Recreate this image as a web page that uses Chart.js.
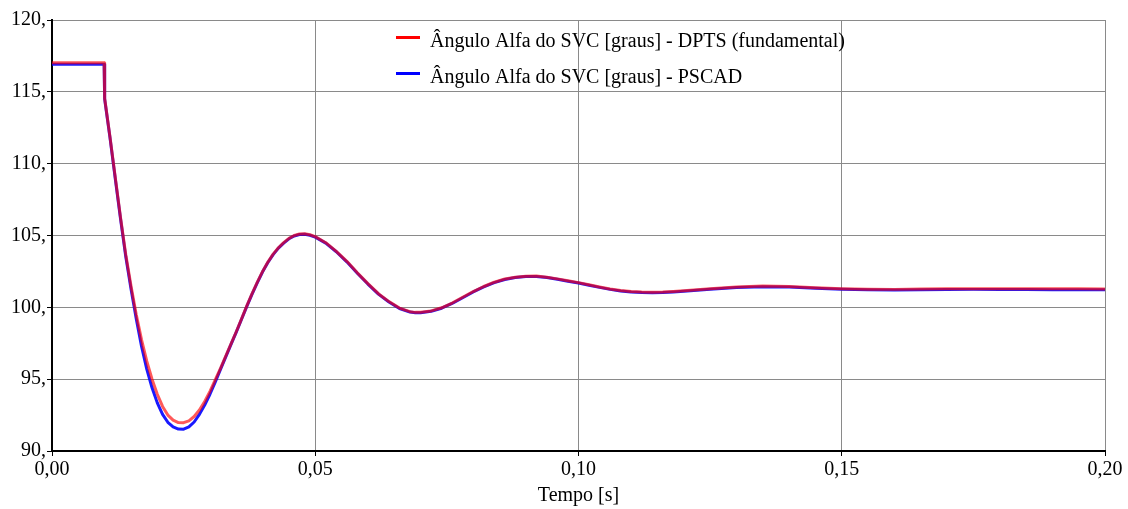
<!DOCTYPE html>
<html>
<head>
<meta charset="utf-8">
<script src="https://cdn.jsdelivr.net/npm/chart.js@4.4.0/dist/chart.umd.min.js"></script>
<style>
html,body{margin:0;padding:0;background:#fff;}
#wrap{width:1128px;height:509px;position:relative;}
</style>
</head>
<body>
<div id="wrap"><canvas id="c" width="1128" height="509"></canvas></div>
<script>
const seriesLabels = ['Ângulo Alfa do SVC [graus] - DPTS (fundamental)', 'Ângulo Alfa do SVC [graus] - PSCAD'];
const xTitle = 'Tempo [s]';
const xTickValues = [0, 0.05, 0.10, 0.15, 0.20];
const xTickLabels = ['0,00', '0,05', '0,10', '0,15', '0,20'];
const yTickValues = [90, 95, 100, 105, 110, 115, 120];
const yTickLabels = ['90,', '95,', '100,', '105,', '110,', '115,', '120,'];

const times = [0, 0.0099, 0.0100, 0.011, 0.012, 0.013, 0.014, 0.015, 0.016, 0.017, 0.018, 0.019,
  0.020, 0.021, 0.022, 0.023, 0.024, 0.025, 0.026, 0.027, 0.028, 0.029, 0.030, 0.031, 0.032, 0.033,
  0.034, 0.035, 0.036, 0.037, 0.038, 0.039, 0.040, 0.041, 0.042, 0.043, 0.044, 0.045, 0.046, 0.047,
  0.048, 0.049, 0.050, 0.052, 0.054, 0.056, 0.058, 0.060, 0.062, 0.064, 0.066, 0.068, 0.069, 0.070,
  0.072, 0.074, 0.076, 0.078, 0.080, 0.082, 0.084, 0.086, 0.088, 0.090, 0.092, 0.094, 0.096, 0.098,
  0.100, 0.102, 0.104, 0.106, 0.108, 0.110, 0.112, 0.114, 0.116, 0.118, 0.120, 0.125, 0.130, 0.135,
  0.140, 0.145, 0.150, 0.155, 0.160, 0.165, 0.170, 0.175, 0.180, 0.185, 0.190, 0.195, 0.200];

const dptsValues = [117.03, 117.03, 114.55, 111.9, 109.1, 106.3, 103.7, 101.5, 99.5, 97.75, 96.25, 95.0,
  93.95, 93.1, 92.5, 92.15, 91.98, 91.97, 92.1, 92.4, 92.85, 93.45, 94.15, 94.95, 95.75, 96.6,
  97.45, 98.3, 99.2, 100.1, 100.95, 101.75, 102.5, 103.15, 103.7, 104.15, 104.5, 104.8, 105.0, 105.1,
  105.12, 105.05, 104.92, 104.5, 103.9, 103.2, 102.4, 101.65, 100.95, 100.4, 99.95, 99.7, 99.65, 99.66,
  99.75, 99.97, 100.3, 100.7, 101.1, 101.45, 101.75, 101.97, 102.1, 102.17, 102.18, 102.1, 101.98, 101.85,
  101.72, 101.57, 101.42, 101.28, 101.17, 101.1, 101.06, 101.05, 101.06, 101.1, 101.15, 101.3, 101.42, 101.48,
  101.45, 101.37, 101.3, 101.26, 101.25, 101.27, 101.29, 101.3, 101.3, 101.29, 101.29, 101.29, 101.28];

const pscadValues = [116.92, 116.92, 114.5, 111.85, 109.0, 106.2, 103.55, 101.3, 99.2, 97.3, 95.7, 94.4,
  93.35, 92.55, 92.0, 91.68, 91.53, 91.52, 91.68, 92.02, 92.55, 93.2, 93.95, 94.8, 95.68, 96.55,
  97.42, 98.27, 99.17, 100.07, 100.92, 101.72, 102.47, 103.12, 103.67, 104.12, 104.47, 104.77, 104.97, 105.07,
  105.09, 105.02, 104.89, 104.47, 103.87, 103.17, 102.37, 101.62, 100.92, 100.37, 99.92, 99.67, 99.62, 99.63,
  99.72, 99.94, 100.27, 100.67, 101.07, 101.42, 101.72, 101.94, 102.07, 102.14, 102.15, 102.07, 101.95, 101.82,
  101.69, 101.54, 101.39, 101.25, 101.14, 101.07, 101.03, 101.02, 101.03, 101.07, 101.12, 101.26, 101.38, 101.43,
  101.41, 101.33, 101.26, 101.22, 101.21, 101.22, 101.24, 101.25, 101.25, 101.24, 101.23, 101.23, 101.22];

const FONT = "'Liberation Serif', 'Times New Roman', serif";
const FSIZE = 20;

const legendPlugin = {
  id: 'insideLegend',
  afterDraw(chart) {
    const ctx = chart.ctx;
    const rows = [
      {lineY: 37.5, textY: 47},
      {lineY: 73.5, textY: 83}
    ];
    const cols = ['#ff0000', '#0000ff'];
    ctx.save();
    chart.data.datasets.forEach((ds, i) => {
      ctx.strokeStyle = cols[i];
      ctx.lineWidth = 3;
      ctx.beginPath();
      ctx.moveTo(396, rows[i].lineY);
      ctx.lineTo(420, rows[i].lineY);
      ctx.stroke();
      ctx.fillStyle = '#000';
      ctx.font = FSIZE + 'px ' + FONT;
      ctx.textBaseline = 'alphabetic';
      ctx.textAlign = 'left';
      ctx.fillText(ds.label, 430, rows[i].textY);
    });
    ctx.restore();
  }
};

const mk = (vals) => times.map((t, i) => ({x: t, y: vals[i]}));

new Chart(document.getElementById('c'), {
  type: 'line',
  data: {
    datasets: [
      {label: seriesLabels[0], data: mk(dptsValues), borderColor: 'rgba(255,0,0,0.65)', borderWidth: 3,
       pointRadius: 0, tension: 0, fill: false, borderJoinStyle: 'round'},
      {label: seriesLabels[1], data: mk(pscadValues), borderColor: 'rgba(0,0,255,0.9)', borderWidth: 3,
       pointRadius: 0, tension: 0, fill: false, borderJoinStyle: 'round'}
    ]
  },
  options: {
    responsive: false,
    animation: false,
    events: [],
    layout: {padding: {top: 20, right: 23, left: 0, bottom: 0}},
    plugins: {legend: {display: false}, tooltip: {enabled: false}},
    scales: {
      x: {
        type: 'linear', min: 0, max: 0.2,
        afterBuildTicks: (s) => { s.ticks = xTickValues.map(v => ({value: v})); },
        afterFit: (s) => { s.height = 58; },
        grid: {color: '#8a8a8a', lineWidth: 1, tickColor: '#000', tickLength: 5, drawTicks: true},
        border: {color: '#000', width: 2},
        ticks: {
          color: '#000', padding: 2, maxRotation: 0, autoSkip: false,
          font: {family: FONT, size: FSIZE},
          callback: (v) => { const i = xTickValues.findIndex(t => Math.abs(t - v) < 1e-9); return i >= 0 ? xTickLabels[i] : ''; }
        },
        title: {display: true, text: xTitle, color: '#000', font: {family: FONT, size: FSIZE}, padding: {top: 0, bottom: 1}}
      },
      y: {
        type: 'linear', min: 90, max: 120,
        afterBuildTicks: (s) => { s.ticks = yTickValues.map(v => ({value: v})); },
        afterFit: (s) => { s.width = 52; },
        grid: {color: '#8a8a8a', lineWidth: 1, tickColor: '#000', tickLength: 5, drawTicks: true},
        border: {color: '#000', width: 2},
        ticks: {
          color: '#000', padding: 1, autoSkip: false,
          font: {family: FONT, size: FSIZE},
          callback: (v) => { const i = yTickValues.indexOf(v); return i >= 0 ? yTickLabels[i] : ''; }
        }
      }
    }
  },
  plugins: [legendPlugin]
});
</script>
</body>
</html>
